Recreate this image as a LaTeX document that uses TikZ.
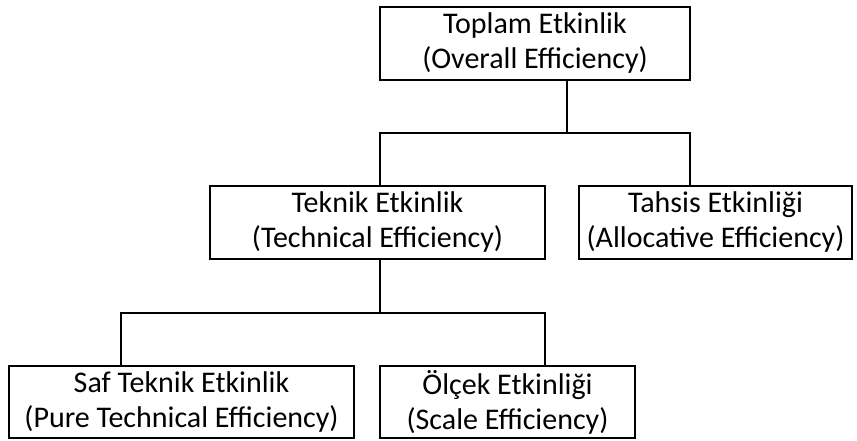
\documentclass[tikz,border=0pt]{standalone}
\usepackage{fontspec}
\setmainfont{Carlito}
\begin{document}
\begin{tikzpicture}[x=1pt,y=-1pt,
  box/.style={draw=black,line width=2.2pt,fill=white,inner sep=0pt,align=center,
    font=\fontsize{30}{35}\selectfont},
  conn/.style={draw=black,line width=2.2pt}]
\useasboundingbox (0,0) rectangle (857,441);
\node[box,minimum width=310pt,minimum height=73pt] (top) at (535,43.5) {Toplam Etkinlik\\(Overall Efficiency)};
\node[box,minimum width=335pt,minimum height=73pt] (teknik) at (377.5,222.5) {Teknik Etkinlik\\(Technical Efficiency)};
\node[box,minimum width=273pt,minimum height=73pt] (tahsis) at (715.5,222.5) {Tahsis Etkinliği\\(Allocative Efficiency)};
\node[box,minimum width=345pt,minimum height=72pt] (saf) at (181.5,402) {Saf Teknik Etkinlik\\(Pure Technical Efficiency)};
\node[box,minimum width=255pt,minimum height=72pt] (olcek) at (507.5,402) {Ölçek Etkinliği\\(Scale Efficiency)};
\coordinate (am) at (567,133);
\coordinate (al) at (380,133);
\coordinate (ar) at (690,133);
\coordinate (bm) at (380,313);
\coordinate (bl) at (121,313);
\coordinate (br) at (545,313);
\draw[conn] (am |- top.south) -- (am);
\draw[conn] (al |- teknik.north) -- (al) -- (ar) -- (ar |- tahsis.north);
\draw[conn] (bm |- teknik.south) -- (bm);
\draw[conn] (bl |- saf.north) -- (bl) -- (br) -- (br |- olcek.north);
\end{tikzpicture}
\end{document}
